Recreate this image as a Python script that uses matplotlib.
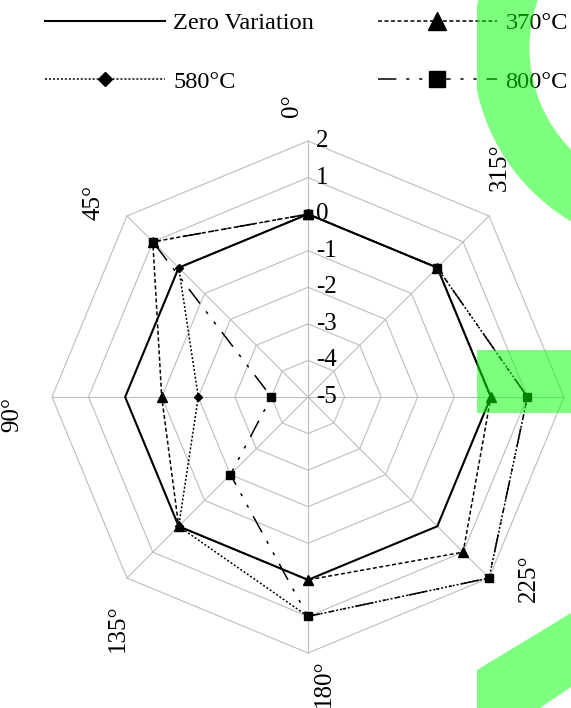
import numpy as np
import matplotlib
matplotlib.use("Agg")
import matplotlib.pyplot as plt
from matplotlib.patches import Rectangle, Polygon, Wedge
from matplotlib.transforms import offset_copy

plt.rcParams['font.family'] = ['Liberation Serif', 'DejaVu Serif']
FS = 18.0
LEG_FS = 17.6

# spoke directions, counter-clockwise from the top
angles_deg = [0, 45, 90, 135, 180, 225, 270, 315]
angle_labels = ['0°', '45°', '90°', '135°', '180°', '225°', '270°', '315°']

zero_var = [0, 0, 0, 0, 0, 0, 0, 0]
var_370 = [0, 1, -1, 0, 0, 1, 0, 0]
var_580 = [0, 0, -2, 0, 1, 2, 1, 0]
var_800 = [0, 1, -4, -2, 1, 2, 1, 0]

r_ticks = [2, 1, 0, -1, -2, -3, -4, -5]
r_min, r_max = -5, 2

# where the rotated direction labels sit (theta in degrees, radius)
label_pos = {
    '0°': (3.1, 2.97),
    '45°': (47.9, 2.92),
    '90°': (93.3, 3.09),
    '135°': (140.6, 3.18),
    '180°': (183.2, 2.83),
    '225°': (230.7, 2.81),
    '315°': (320.1, 3.19),
}


def closed(vals):
    return list(vals) + [vals[0]]


fig = plt.figure(figsize=(5.71, 7.08), dpi=100)
ax = fig.add_axes([52 / 571, 55 / 708, 512 / 571, 512 / 708], projection='polar')
ax.set_theta_zero_location('N')
ax.set_theta_direction(1)
ax.set_ylim(r_min, r_max)
ax.grid(False)
ax.set_xticks([])
ax.set_yticks([])
ax.spines['polar'].set_visible(False)
ax.patch.set_visible(False)

theta = np.deg2rad(angles_deg)
theta_c = closed(list(theta))

# octagonal grid and spokes
grid_col = '#bdbdbd'
for lvl in r_ticks[:-1]:
    ax.plot(theta_c, [lvl] * len(theta_c), color=grid_col, lw=0.8, zorder=1, clip_on=False)
for t in theta:
    ax.plot([t, t], [r_min, r_max], color=grid_col, lw=0.8, zorder=1, clip_on=False)

# radial value labels along the top spoke
tick_tr = offset_copy(ax.transData, fig=fig, x=8, y=0, units='dots')
for lvl in r_ticks:
    ax.text(0, lvl, str(lvl), transform=tick_tr, ha='left', va='center',
            fontsize=FS, zorder=2)

for lab, (t_deg, r) in label_pos.items():
    ax.text(np.deg2rad(t_deg), r, lab, rotation=90, ha='center', va='center',
            rotation_mode='anchor', fontsize=FS)

l_zero, = ax.plot(theta_c, closed(zero_var), color='black', lw=1.5,
                  zorder=3, clip_on=False)
l_370, = ax.plot(theta_c, closed(var_370), color='black', lw=1.1,
                 linestyle=(0, (2.6, 1.65)), marker='^', ms=7,
                 zorder=4, clip_on=False)
l_580, = ax.plot(theta_c, closed(var_580), color='black', lw=1.1,
                 linestyle=(0, (1.3, 1.3)), marker='D', ms=3.7,
                 zorder=5, clip_on=False)
l_800, = ax.plot(theta_c, closed(var_800), color='black', lw=1.1,
                 linestyle=(0, (12, 6.5, 2, 6.5, 2, 6.5)), marker='s', ms=6.2,
                 zorder=6, clip_on=False)

fig.legend([l_zero, l_580, l_370, l_800],
           ['Zero Variation', '580°C', '370°C', '800°C'],
           ncol=2, loc='upper left', bbox_to_anchor=(45 / 571, 1 - 12 / 708),
           frameon=False, fontsize=LEG_FS, handlelength=4.9, handletextpad=0.34,
           columnspacing=2.6, labelspacing=1.5, borderpad=0, borderaxespad=0,
           markerscale=1.9, numpoints=1)

# green highlight marks drawn on top of everything
ov = fig.add_axes([0, 0, 1, 1], zorder=10)
ov.set_xlim(0, 571)
ov.set_ylim(708, 0)
ov.axis('off')
ov.patch.set_visible(False)
green = dict(facecolor='#00ff00', alpha=0.5, lw=0)
ov.add_patch(Rectangle((477, 350), 94, 63, **green))
ov.add_patch(Polygon([(477, 670), (571, 613), (571, 687), (540, 708), (477, 708)], **green))
ring = Wedge((674.5, 48), 202, 0, 360, width=57, **green)
ov.add_patch(ring)
ring.set_clip_path(Rectangle((477, 0), 94, 708, transform=ov.transData))

fig.savefig('out.png', dpi=100)
